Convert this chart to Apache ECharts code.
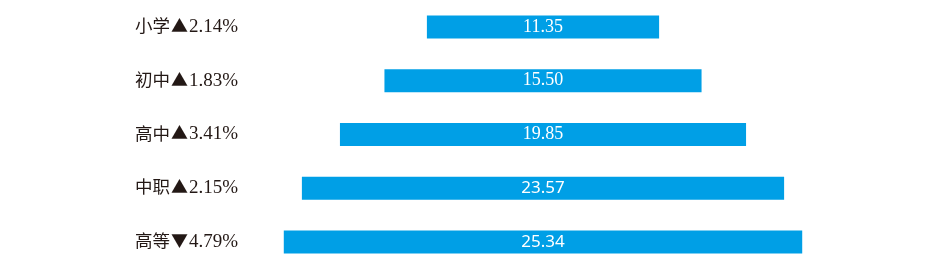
<!DOCTYPE html>
<html><head><meta charset="utf-8">
<script src="https://cdn.jsdelivr.net/npm/echarts@6/dist/echarts.min.js"></script>
<style>html,body{margin:0;padding:0;background:#fff}#c{width:950px;height:269px}</style>
</head><body><div id="c"></div>
<script>
var categories = ['小学', '初中', '高中', '中职', '高等'];
var changeArrows = ['▲', '▲', '▲', '▲', '▼'];
var changeRates = ['2.14%', '1.83%', '3.41%', '2.15%', '4.79%'];
var values = [11.35, 15.50, 19.85, 23.57, 25.34];
var labelFonts = ['Liberation Serif', 'Liberation Serif', 'Liberation Serif', 'Noto Sans', 'Noto Sans'];
var labelSizes = [18, 18, 18, 17, 17];

var axisMax = 29.62;
var offsets = values.map(function (v) { return (axisMax - v) / 2; });

var chart = echarts.init(document.getElementById('c'));
chart.setOption({
  animation: false,
  grid: { left: 240, right: 104, top: -2, bottom: -3, containLabel: false },
  xAxis: { type: 'value', min: 0, max: axisMax, show: false },
  yAxis: {
    type: 'category', inverse: true,
    data: categories.map(function (c, i) { return c + '|' + changeArrows[i] + '|' + changeRates[i]; }),
    axisLine: { show: false }, axisTick: { show: false }, splitLine: { show: false },
    axisLabel: {
      align: 'left', margin: 105, color: '#231815', fontSize: 18, lineHeight: 22,
      formatter: function (s) {
        var p = s.split('|');
        return '{c|' + p[0] + '}{t|' + p[1] + '}{n|' + p[2] + '}';
      },
      rich: {
        c: { fontSize: 17.5, lineHeight: 22, height: 22, color: '#231815', fontFamily: '"Noto Sans CJK SC"', verticalAlign: 'middle', padding: [0, 0, 3, 0] },
        t: { fontSize: 17, lineHeight: 22, height: 22, color: '#231815', fontFamily: '"Noto Sans CJK SC"', verticalAlign: 'middle', padding: [0, 1, 3, 1] },
        n: { fontSize: 19, lineHeight: 22, height: 22, color: '#231815', fontFamily: '"Liberation Serif"', verticalAlign: 'middle' }
      }
    }
  },
  series: [
    { type: 'bar', stack: 'f', data: offsets, barWidth: 23, itemStyle: { color: 'transparent' }, silent: true },
    {
      type: 'bar', stack: 'f', barWidth: 23,
      data: values.map(function (v, i) {
        return { value: v, label: { fontFamily: labelFonts[i], fontSize: labelSizes[i] } };
      }),
      itemStyle: { color: '#009FE6' },
      label: { show: true, position: 'inside', color: '#fff', fontSize: 18,
        formatter: function (p) { return p.value.toFixed(2); } }
    }
  ]
});
</script></body></html>
